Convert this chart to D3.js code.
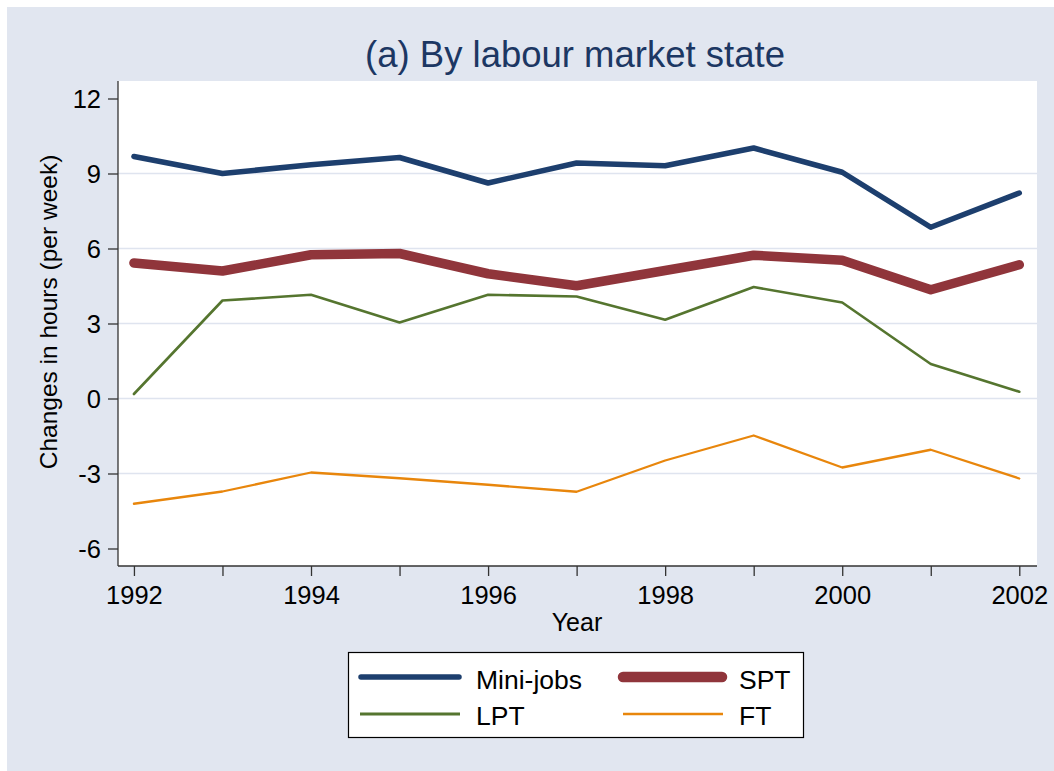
<!DOCTYPE html>
<html>
<head>
<meta charset="utf-8">
<script src="https://cdn.jsdelivr.net/npm/d3@7"></script>
<style>
  html, body { margin: 0; padding: 0; background: #ffffff; }
  svg { display: block; font-family: "Liberation Sans", Arial, Helvetica, sans-serif; }
</style>
</head>
<body>
<svg id="chart" width="1054" height="771"></svg>
<script>
// ---- data ----
const years = [1992, 1993, 1994, 1995, 1996, 1997, 1998, 1999, 2000, 2001, 2002];
const miniJobs = [9.68, 9.0, 9.35, 9.64, 8.62, 9.42, 9.31, 10.02, 9.05, 6.85, 8.22];
const spt      = [5.42, 5.1, 5.75, 5.8, 4.99, 4.51, 5.12, 5.73, 5.53, 4.35, 5.35];
const lpt      = [0.18, 3.92, 4.15, 3.04, 4.15, 4.08, 3.15, 4.46, 3.84, 1.38, 0.27];
const ft       = [-4.21, -3.72, -2.96, -3.19, -3.45, -3.73, -2.48, -1.48, -2.76, -2.05, -3.2];
const yTicks = [-6, -3, 0, 3, 6, 9, 12];
const xTicks = [1992, 1993, 1994, 1995, 1996, 1997, 1998, 1999, 2000, 2001, 2002];
const xTickLabels = [1992, 1994, 1996, 1998, 2000, 2002];
const gridValues = [-3, 0, 3, 6, 9];
const seriesNames = ["Mini-jobs", "SPT", "LPT", "FT"];

const series = [
  { name: seriesNames[0], values: miniJobs, color: "#1d3f6e", width: 5.5, lw: 5.5 },
  { name: seriesNames[1], values: spt,      color: "#90353b", width: 9.5, lw: 10.5 },
  { name: seriesNames[2], values: lpt,      color: "#55752f", width: 2.6, lw: 2.8 },
  { name: seriesNames[3], values: ft,       color: "#e8860c", width: 2.3, lw: 2.3 }
];

const svg = d3.select("#chart");
const W = 1054, H = 771;

// background
svg.append("rect").attr("x", 7).attr("y", 7).attr("width", W - 7).attr("height", H - 7)
  .attr("fill", "#e1e6f0");

// plot region
const plot = { left: 118, right: 1037, top: 81, bottom: 566 };
const x = d3.scaleLinear().domain([1991.82, 2002.2]).range([plot.left, plot.right]);
const y = d3.scaleLinear().domain([-6.7, 12.7]).range([plot.bottom, plot.top]);

svg.append("rect")
  .attr("x", plot.left).attr("y", plot.top)
  .attr("width", plot.right - plot.left).attr("height", plot.bottom - plot.top)
  .attr("fill", "#ffffff");

// gridlines
svg.append("g").selectAll("line").data(gridValues).join("line")
  .attr("x1", plot.left).attr("x2", plot.right)
  .attr("y1", d => y(d)).attr("y2", d => y(d))
  .attr("stroke", "#dfe4ef").attr("stroke-width", 1.6);

// lines
const line = d3.line().x((d, i) => x(years[i])).y(d => y(d));
const lines = svg.append("g");
series.slice().reverse().forEach(s => {
  lines.append("path")
    .datum(s.values)
    .attr("d", line)
    .attr("fill", "none")
    .attr("stroke", s.color)
    .attr("stroke-width", s.width)
    .attr("stroke-linejoin", "round")
    .attr("stroke-linecap", "round");
});

// axes
const axisColor = "#333333";
const yAxis = d3.axisLeft(y).tickValues(yTicks).tickSize(10).tickPadding(7).tickFormat(d => String(d));
const gy = svg.append("g").attr("transform", `translate(${plot.left},0)`).call(yAxis);
gy.select(".domain").attr("d", `M0,${plot.top}V${plot.bottom}`).attr("stroke", axisColor).attr("stroke-width", 1.3);
gy.selectAll(".tick line").attr("stroke", axisColor).attr("stroke-width", 1.3);
gy.selectAll(".tick text").attr("font-size", 25.5).attr("fill", "#000")
  .attr("font-family", "'Liberation Sans', Arial, sans-serif").attr("dy", "0.36em");

const xAxis = d3.axisBottom(x).tickValues(xTicks).tickSize(10).tickPadding(10)
  .tickFormat(d => xTickLabels.includes(d) ? String(d) : "");
const gx = svg.append("g").attr("transform", `translate(0,${plot.bottom})`).call(xAxis);
gx.select(".domain").attr("d", `M${plot.left},0H${plot.right}`).attr("stroke", axisColor).attr("stroke-width", 1.3);
gx.selectAll(".tick line").attr("stroke", axisColor).attr("stroke-width", 1.3);
gx.selectAll(".tick text").attr("font-size", 25.5).attr("fill", "#000")
  .attr("font-family", "'Liberation Sans', Arial, sans-serif");

// title
svg.append("text").attr("x", 575).attr("y", 67).attr("text-anchor", "middle")
  .attr("font-size", 36.5).attr("fill", "#1c3763").text("(a) By labour market state");

// axis titles
svg.append("text").attr("x", 577).attr("y", 631).attr("text-anchor", "middle")
  .attr("font-size", 25).attr("fill", "#000").text("Year");
svg.append("text").attr("transform", "translate(57,312) rotate(-90)").attr("text-anchor", "middle")
  .attr("font-size", 24.5).attr("fill", "#000").text("Changes in hours (per week)");

// legend
const lg = svg.append("g");
lg.append("rect").attr("x", 348.5).attr("y", 652.5).attr("width", 455).attr("height", 85)
  .attr("fill", "#ffffff").attr("stroke", "#000").attr("stroke-width", 1.2);
const legendPos = [
  { lx1: 361, lx2: 459, tx: 476, ly: 677, ty: 689 },
  { lx1: 623, lx2: 722, tx: 739, ly: 677, ty: 689 },
  { lx1: 360, lx2: 460, tx: 476, ly: 714, ty: 725 },
  { lx1: 623, lx2: 723, tx: 739, ly: 714, ty: 725 }
];
series.forEach((s, i) => {
  const p = legendPos[i];
  lg.append("line").attr("x1", p.lx1).attr("x2", p.lx2).attr("y1", p.ly).attr("y2", p.ly)
    .attr("stroke", s.color).attr("stroke-width", s.lw)
    .attr("stroke-linecap", s.lw > 4 ? "round" : "butt");
  lg.append("text").attr("x", p.tx).attr("y", p.ty).attr("font-size", 26.5).attr("fill", "#000").text(s.name);
});
</script>
</body>
</html>
